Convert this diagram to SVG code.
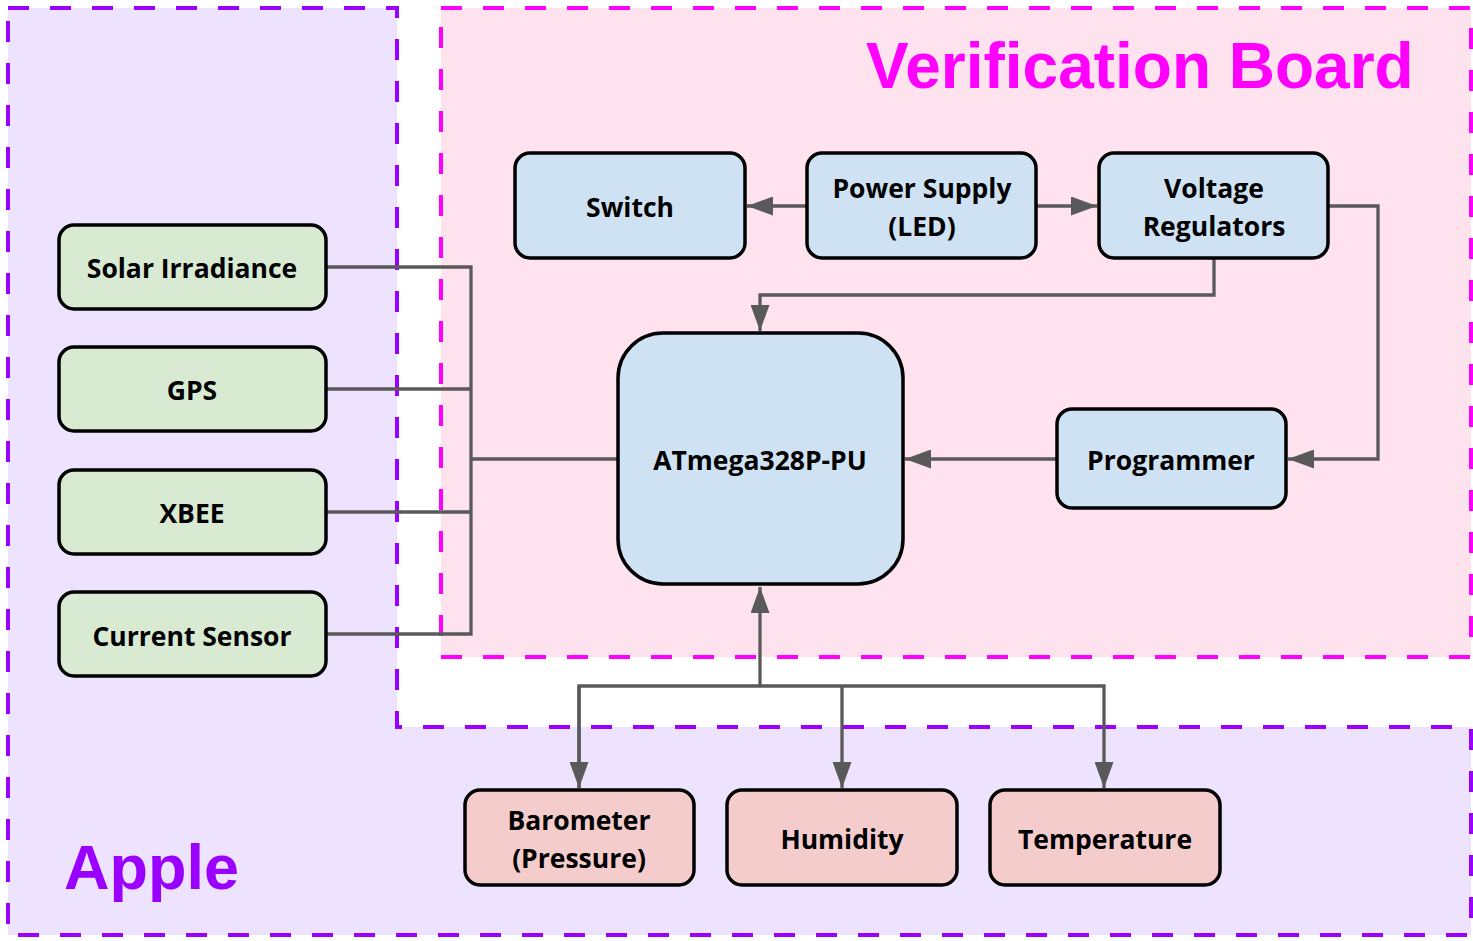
<svg xmlns="http://www.w3.org/2000/svg" width="1473" height="941" viewBox="0 0 1473 941">
<style>
.region-apple{fill:#ede3fe;stroke:#9900ff;stroke-width:4;stroke-dasharray:21 21;}
.region-vb{fill:#fee3ef;stroke:#ff00ff;stroke-width:4;stroke-dasharray:21 21;}
.node rect{stroke:#000;stroke-width:3.5;}
.blue{fill:#cfe2f3;}
.green{fill:#d9ead3;}
.red{fill:#f4cccc;}
.lbl{font-family:"Open Sans","Noto Sans",sans-serif;font-weight:bold;font-size:26.5px;fill:#000;text-anchor:middle;}
.title{font-family:"Liberation Sans",Arial,sans-serif;font-weight:bold;}
.conn{fill:none;stroke:#595959;stroke-width:3.3;}
</style>
<defs>
<marker id="arr" viewBox="0 0 26 19" refX="26" refY="9.5" markerWidth="26" markerHeight="19" markerUnits="userSpaceOnUse" orient="auto">
<path d="M0,0 L26,9.5 L0,19 Z" fill="#595959"/>
</marker>
</defs>
<rect width="1473" height="941" fill="#fff"/>
<g id="region-apple">
<path class="region-apple" d="M8,8 H397 V727 H1471 V935 H8 Z"/>
<text class="title" x="64" y="889" font-size="63" fill="#9900ff">Apple</text>
</g>
<g id="region-verification">
<rect class="region-vb" x="441" y="8" width="1030" height="649"/>
<text class="title" x="866" y="88" font-size="64" fill="#ff00ff">Verification Board</text>
</g>
<g id="connectors">
<path class="conn" d="M807,206 H747" marker-end="url(#arr)"/>
<path class="conn" d="M1036,206 H1097" marker-end="url(#arr)"/>
<path class="conn" d="M1214,258 V295 H760 V331" marker-end="url(#arr)"/>
<path class="conn" d="M1328,206 H1378 V459 H1288" marker-end="url(#arr)"/>
<path class="conn" d="M1057,459 H905" marker-end="url(#arr)"/>
<path class="conn" d="M326,267 H471 V634 H326"/>
<path class="conn" d="M326,389 H471"/>
<path class="conn" d="M326,512 H471"/>
<path class="conn" d="M618,459 H471"/>
<path class="conn" d="M760,686 V587" marker-end="url(#arr)"/>
<path class="conn" d="M579,788 V686 H1104 V788" marker-end="url(#arr)"/>
<path class="conn" d="M579,686 V788" marker-end="url(#arr)"/>
<path class="conn" d="M842,686 V788" marker-end="url(#arr)"/>
</g>
<g id="node-switch" class="node"><rect class="blue" x="515" y="153" width="230" height="105" rx="15"/><text class="lbl" x="630" y="217">Switch</text></g>
<g id="node-power" class="node"><rect class="blue" x="807" y="153" width="229" height="105" rx="15"/><text class="lbl" x="922" y="198">Power Supply</text><text class="lbl" x="922" y="236">(LED)</text></g>
<g id="node-vreg" class="node"><rect class="blue" x="1099" y="153" width="229" height="105" rx="15"/><text class="lbl" x="1214" y="198">Voltage</text><text class="lbl" x="1214" y="236">Regulators</text></g>
<g id="node-atmega" class="node"><rect class="blue" x="618" y="333" width="285" height="251" rx="45"/><text class="lbl" x="760" y="470">ATmega328P-PU</text></g>
<g id="node-programmer" class="node"><rect class="blue" x="1057" y="409" width="229" height="99" rx="15"/><text class="lbl" x="1171" y="470">Programmer</text></g>
<g id="node-solar" class="node"><rect class="green" x="59" y="225" width="267" height="84" rx="15"/><text class="lbl" x="192" y="278">Solar Irradiance</text></g>
<g id="node-gps" class="node"><rect class="green" x="59" y="347" width="267" height="84" rx="15"/><text class="lbl" x="192" y="400">GPS</text></g>
<g id="node-xbee" class="node"><rect class="green" x="59" y="470" width="267" height="84" rx="15"/><text class="lbl" x="192" y="523">XBEE</text></g>
<g id="node-current" class="node"><rect class="green" x="59" y="592" width="267" height="84" rx="15"/><text class="lbl" x="192" y="646">Current Sensor</text></g>
<g id="node-barometer" class="node"><rect class="red" x="465" y="790" width="229" height="95" rx="15"/><text class="lbl" x="579" y="830">Barometer</text><text class="lbl" x="579" y="868">(Pressure)</text></g>
<g id="node-humidity" class="node"><rect class="red" x="727" y="790" width="230" height="95" rx="15"/><text class="lbl" x="842" y="849">Humidity</text></g>
<g id="node-temperature" class="node"><rect class="red" x="990" y="790" width="230" height="95" rx="15"/><text class="lbl" x="1105" y="849">Temperature</text></g>
</svg>
